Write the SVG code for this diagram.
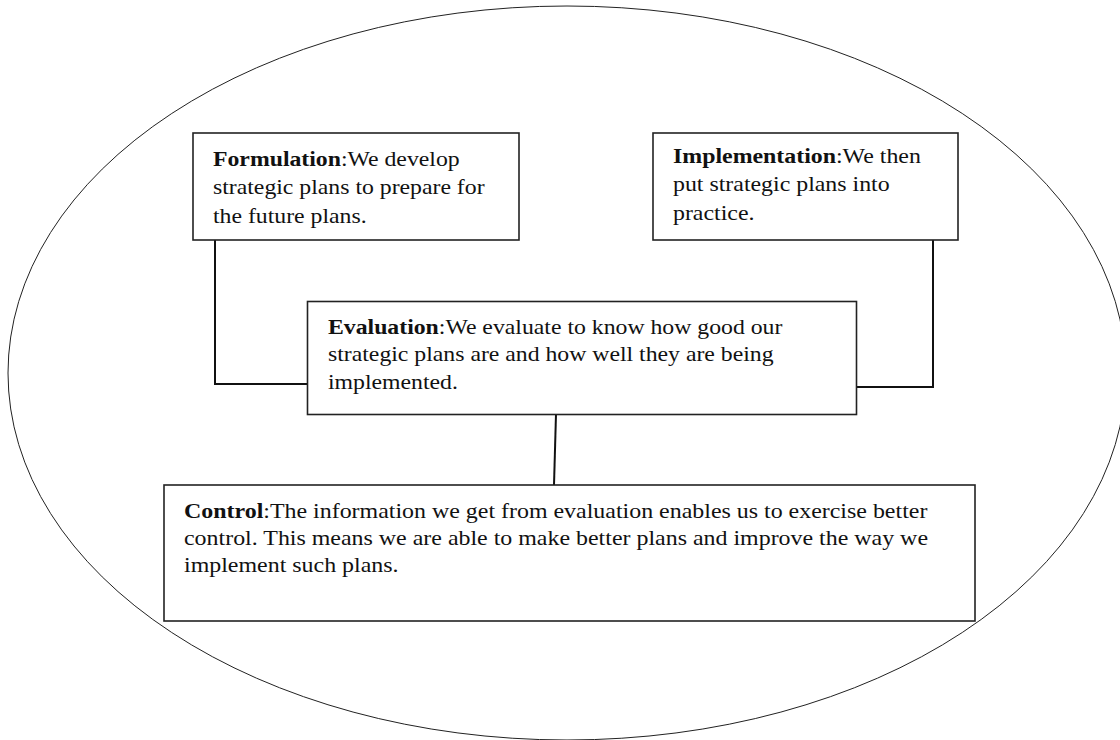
<svg xmlns="http://www.w3.org/2000/svg" width="1120" height="740" viewBox="0 0 1120 740">
<style>
.box{fill:#fff;stroke:#222;stroke-width:1.6}
.con{fill:none;stroke:#111;stroke-width:2}
.t{font-family:"Liberation Serif","Times New Roman",serif;font-size:22px;fill:#111}
.b{font-weight:bold}
</style>
<rect width="1120" height="740" fill="#fff"/>
<ellipse id="outer" cx="567" cy="373" rx="559" ry="367" fill="none" stroke="#222" stroke-width="1"/>
<g id="connectors">
<polyline class="con" points="215,240 215,384 308,384"/>
<polyline class="con" points="933,239 933,387 857,387"/>
<line class="con" x1="556" y1="414" x2="554" y2="485"/>
</g>
<g id="formulation">
<rect class="box" x="193" y="133" width="326" height="107"/>
<text class="t" transform="translate(213,166) scale(1.08,1)"><tspan class="b">Formulation</tspan>:We develop<tspan x="0" dy="28.5">strategic plans to prepare for</tspan><tspan x="0" dy="28.5">the future plans.</tspan></text>
</g>
<g id="implementation">
<rect class="box" x="653" y="133" width="305" height="107"/>
<text class="t" transform="translate(673,163) scale(1.085,1)"><tspan class="b">Implementation</tspan>:We then<tspan x="0" dy="28.5">put strategic plans into</tspan><tspan x="0" dy="28.5">practice.</tspan></text>
</g>
<g id="evaluation">
<rect class="box" x="307.5" y="301.5" width="549" height="113"/>
<text class="t" transform="translate(328,334) scale(1.08,1)"><tspan class="b">Evaluation</tspan>:We evaluate to know how good our<tspan x="0" dy="27.5">strategic plans are and how well they are being</tspan><tspan x="0" dy="27.5">implemented.</tspan></text>
</g>
<g id="control">
<rect class="box" x="164" y="485" width="811" height="136"/>
<text class="t" transform="translate(184,518) scale(1.088,1)"><tspan class="b">Control</tspan>:The information we get from evaluation enables us to exercise better<tspan x="0" dy="27">control. This means we are able to make better plans and improve the way we</tspan><tspan x="0" dy="27">implement such plans.</tspan></text>
</g>
</svg>
